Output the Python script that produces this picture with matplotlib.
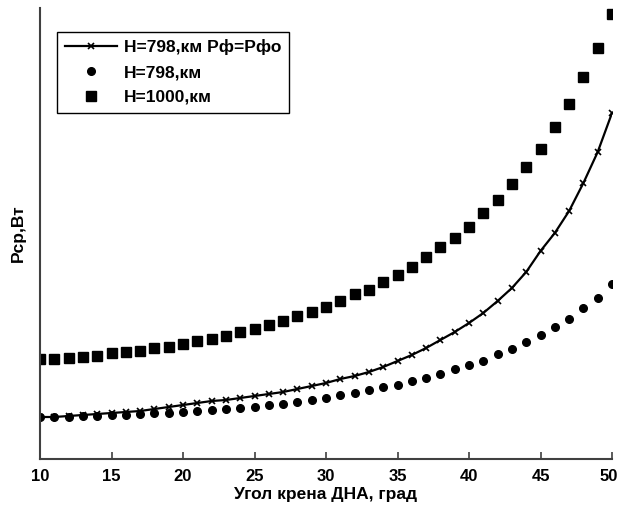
import numpy as np
import matplotlib.pyplot as plt
import matplotlib.transforms as mtransforms

# Угол крена ДНА, град
ugol = np.arange(10, 51)

# Рср (условные единицы, ось без подписей значений)
p_798_rf = [42, 42, 43, 44, 45, 46, 47, 48, 50, 52,
            54, 56, 58, 59, 61, 63, 65, 67, 70, 73,
            76, 80, 83, 87, 92, 98, 104, 111, 119, 127,
            136, 146, 158, 171, 187, 208, 226, 248, 276, 307,
            346]
p_798 = [42, 42, 42.5, 43, 43.5, 44, 44.5, 45, 46, 46.5,
         47, 48, 49, 50, 51, 52.5, 54, 55.5, 57, 59,
         61.5, 64, 66, 69, 72, 74, 78, 81, 85, 90,
         94, 98, 105, 110, 117, 124, 132, 140, 151, 161,
         175]
p_1000 = [100, 100, 101, 102, 103, 106, 107, 108, 111, 112,
          115, 118, 120, 123, 127, 130, 134, 138, 143, 147,
          152, 158, 165, 169, 177, 184, 192, 202, 212, 221,
          232, 246, 259, 275, 292, 310, 332, 355, 382, 411,
          445]

plt.rcParams['font.family'] = ['Liberation Sans', 'DejaVu Sans']
fs = 12.5

fig = plt.figure(figsize=(6.2, 5.11), dpi=100)
ax = fig.add_axes([40 / 620, 52 / 511, 572 / 620, 451 / 511])

ax.plot(ugol, p_798_rf, color='black', lw=1.6, marker='x', ms=5, mew=1.2,
        label='H=798,км Рф=Рфо')
ax.plot(ugol, p_798, ls='none', color='black', marker='o', ms=5.5,
        label='H=798,км')
ax.plot(ugol, p_1000, ls='none', color='black', marker='s', ms=6.5,
        label='H=1000,км')

ax.set_xlim(10, 50)
ax.set_ylim(0, 451)
ax.set_xticks(range(10, 51, 5))
ax.set_yticks([])
ax.tick_params(axis='x', direction='in', length=5, width=1.2, color='#404040',
               labelsize=12, pad=7)
for lbl in ax.get_xticklabels():
    lbl.set_fontweight('bold')
# последнюю подпись чуть левее, чтобы не обрезалась
last = ax.get_xticklabels()[-1]
last.set_transform(last.get_transform() +
                   mtransforms.ScaledTranslation(-3 / 100, 0, fig.dpi_scale_trans))
for s in ['top', 'right']:
    ax.spines[s].set_visible(False)
for s in ['left', 'bottom']:
    ax.spines[s].set_color('#404040')
    ax.spines[s].set_linewidth(1.5)

ax.set_xlabel('Угол крена ДНА, град', fontsize=fs, fontweight='bold', labelpad=2)
ax.set_ylabel('Рср,Вт', fontsize=fs, fontweight='bold', labelpad=10)

leg = ax.legend(loc='upper left', bbox_to_anchor=(0.015, 0.967),
                prop={'weight': 'bold', 'size': fs}, fancybox=False,
                framealpha=1, edgecolor='black', handlelength=3.0,
                borderpad=0.45, labelspacing=0.55, handletextpad=0.4)
leg.get_frame().set_linewidth(1.0)

fig.savefig('out.png', dpi=100)
